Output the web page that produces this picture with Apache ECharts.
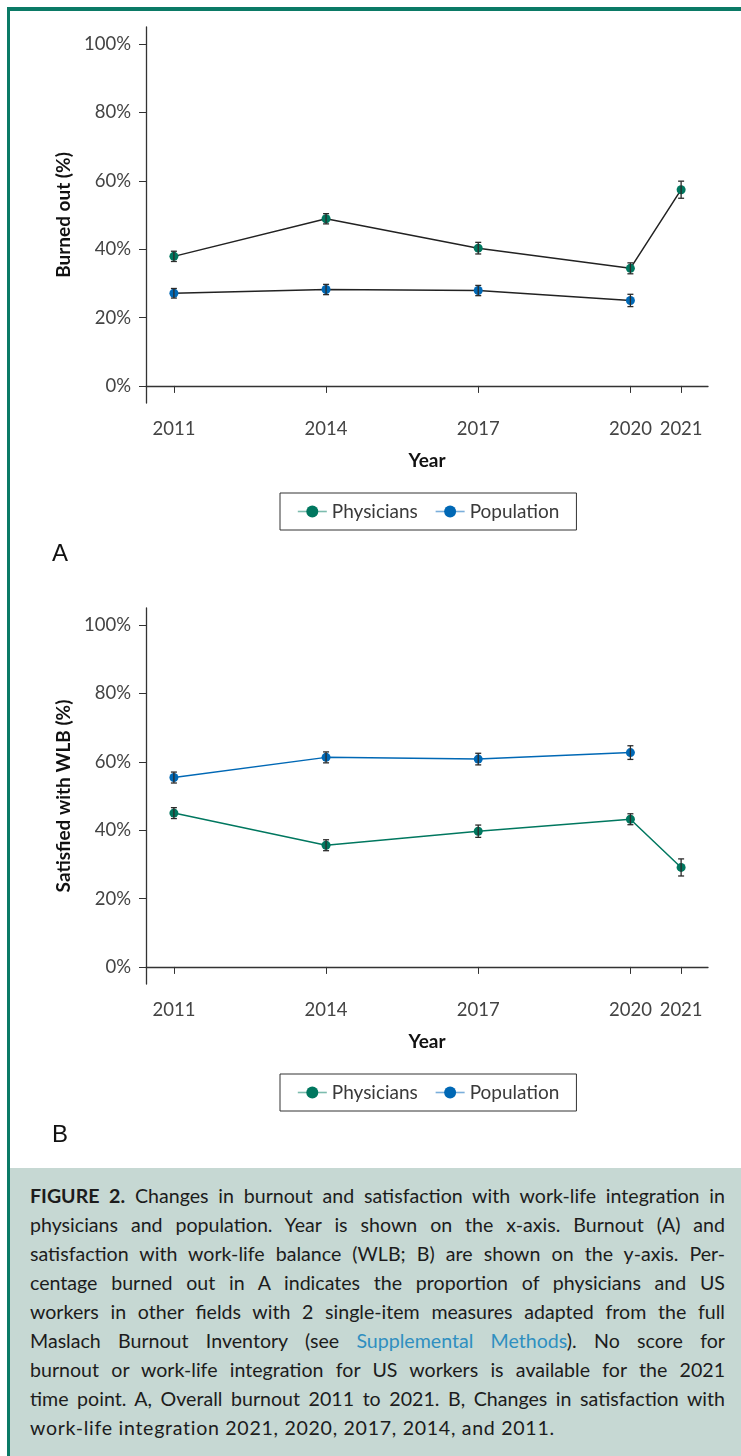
<!DOCTYPE html>
<html>
<head>
<meta charset="utf-8">
<script src="https://cdn.jsdelivr.net/npm/echarts@6/dist/echarts.min.js"></script>
<style>
  html, body { margin:0; padding:0; background:#fff; }
  body { width:741px; height:1456px; position:relative; overflow:hidden; }
  #frameTop { position:absolute; left:7px; top:7px; right:0; height:4px; background:#0b7a66; }
  #frameLeft { position:absolute; left:7px; top:7px; width:3px; bottom:0; background:#0b7a66; }
  #ca, #cb { position:absolute; left:0; width:741px; height:581px; }
  #ca { top:0; }
  #cb { top:581px; }
  #caption { position:absolute; left:10px; right:0; top:1168px; bottom:0; background:#c6d8d3; }
  #captionText { position:absolute; left:30px; top:1181px; width:695px; font-family:Lato, "Open Sans", sans-serif; font-size:19.6px; line-height:29px; color:#1c1c1c; }
  #captionText .ln { white-space:nowrap; text-align:justify; text-align-last:justify; }
  #captionText .ln.last { text-align-last:left; letter-spacing:0.7px; }
  #captionText b { font-weight:700; }
  #captionText .lnk { color:#2f8fc0; }
</style>
</head>
<body>
<div id="ca"></div>
<div id="cb"></div>
<div id="caption"></div>
<div id="frameTop"></div>
<div id="frameLeft"></div>
<div id="captionText">
  <div class="ln"><b>FIGURE 2.</b> Changes in burnout and satisfaction with work-life integration in</div>
  <div class="ln">physicians and population. Year is shown on the x-axis. Burnout (A) and</div>
  <div class="ln">satisfaction with work-life balance (WLB; B) are shown on the y-axis. Per-</div>
  <div class="ln">centage burned out in A indicates the proportion of physicians and US</div>
  <div class="ln">workers in other fields with 2 single-item measures adapted from the full</div>
  <div class="ln">Maslach Burnout Inventory (see <span class="lnk">Supplemental Methods</span>). No score for</div>
  <div class="ln">burnout or work-life integration for US workers is available for the 2021</div>
  <div class="ln">time point. A, Overall burnout 2011 to 2021. B, Changes in satisfaction with</div>
  <div class="ln last">work-life integration 2021, 2020, 2017, 2014, and 2011.</div>
</div>
<script>
// ---- data ----
const years = [2011, 2014, 2017, 2020, 2021];
const popYears = [2011, 2014, 2017, 2020];
const xTicks = [2011, 2014, 2017, 2020, 2021];
const yTicks = [0, 20, 40, 60, 80, 100];

const burnPhys    = [37.9, 48.9, 40.3, 34.4, 57.4];
const burnPhysErr = [1.5, 1.5, 1.7, 1.6, 2.5];
const burnPop     = [27.1, 28.2, 27.9, 25.0];
const burnPopErr  = [1.4, 1.5, 1.5, 1.8];

const wlbPhys     = [45.0, 35.6, 39.7, 43.2, 29.1];
const wlbPhysErr  = [1.6, 1.6, 1.8, 1.6, 2.5];
const wlbPop      = [55.4, 61.3, 60.8, 62.7];
const wlbPopErr   = [1.6, 1.6, 1.7, 2.0];

// ---- style ----
const GREEN = '#00775f';
const BLUE = '#0068b5';
const GREEN_L = '#7cbcae';
const BLUE_L = '#7aaedb';
const FONT = 'Lato, "Open Sans", sans-serif';

function errSeries(xs, vals, errs) {
  return {
    type: 'custom',
    z: 5,
    silent: true,
    data: xs.map((x, i) => [x, vals[i] - errs[i], vals[i] + errs[i]]),
    renderItem: function (params, api) {
      const lo = api.coord([api.value(0), api.value(1)]);
      const hi = api.coord([api.value(0), api.value(2)]);
      const w = 3;
      const st = { stroke: '#2b2b2b', lineWidth: 1.3 };
      return {
        type: 'group',
        children: [
          { type: 'line', shape: { x1: lo[0], y1: lo[1], x2: hi[0], y2: hi[1] }, style: st },
          { type: 'line', shape: { x1: lo[0] - w, y1: lo[1], x2: lo[0] + w, y2: lo[1] }, style: st },
          { type: 'line', shape: { x1: hi[0] - w, y1: hi[1], x2: hi[0] + w, y2: hi[1] }, style: st }
        ]
      };
    }
  };
}

function makeOption(yName, label, phys, physErr, pop, popErr, lineColored) {
  return {
    animation: false,
    grid: { left: 146, top: 27, width: 562, height: 376 },
    xAxis: {
      type: 'value', min: 2010.45, max: 2021.53,
      name: 'Year', nameLocation: 'middle', nameGap: 48,
      nameTextStyle: { fontFamily: FONT, fontSize: 19, fontWeight: 'bold', color: '#111' },
      axisLine: { show: true, lineStyle: { color: '#333', width: 1.3 } },
      axisTick: { show: true, length: 7, customValues: xTicks, lineStyle: { color: '#333', width: 1 } },
      axisLabel: { customValues: xTicks, margin: 17, fontFamily: FONT, fontSize: 18.5, color: '#444',
                   formatter: v => String(v) },
      splitLine: { show: false }
    },
    yAxis: {
      type: 'value', min: -5, max: 105,
      name: yName, nameLocation: 'middle', nameGap: 72, nameRotate: 90,
      nameTextStyle: { fontFamily: FONT, fontSize: 19, fontWeight: 'bold', color: '#111' },
      axisLine: { show: true, lineStyle: { color: '#333', width: 1.3 } },
      axisTick: { show: true, length: 7, customValues: yTicks, lineStyle: { color: '#333', width: 1 } },
      axisLabel: { customValues: yTicks, margin: 15, fontFamily: FONT, fontSize: 18.5, color: '#444',
                   formatter: v => v + '%' },
      splitLine: { show: false }
    },
    legend: {
      left: 280, top: 493,
      padding: [9, 17],
      itemGap: 17, itemWidth: 29, itemHeight: 15,
      borderColor: '#333', borderWidth: 1, borderRadius: 0,
      textStyle: { fontFamily: FONT, fontSize: 19, color: '#3a3a3a' },
      data: [
        { name: 'Physicians', lineStyle: { color: GREEN_L, width: 1.6 } },
        { name: 'Population', lineStyle: { color: BLUE_L, width: 1.6 } }
      ]
    },
    graphic: [{
      type: 'text', left: 52, top: 542,
      style: { text: label, fontFamily: '"Liberation Sans", Arial, sans-serif', fontSize: 24, fill: '#111' }
    }],
    series: [
      {
        name: 'Physicians', type: 'line', z: 3,
        data: years.map((x, i) => [x, phys[i]]),
        symbol: 'circle', symbolSize: 9,
        itemStyle: { color: GREEN },
        lineStyle: { color: lineColored ? GREEN : '#222', width: 1.5 }
      },
      {
        name: 'Population', type: 'line', z: 3,
        data: popYears.map((x, i) => [x, pop[i]]),
        symbol: 'circle', symbolSize: 9,
        itemStyle: { color: BLUE },
        lineStyle: { color: lineColored ? BLUE : '#222', width: 1.5 }
      },
      errSeries(years, phys, physErr),
      errSeries(popYears, pop, popErr)
    ]
  };
}

const ca = echarts.init(document.getElementById('ca'), null, { renderer: 'canvas' });
ca.setOption(makeOption('Burned out (%)', 'A', burnPhys, burnPhysErr, burnPop, burnPopErr, false));
const cb = echarts.init(document.getElementById('cb'), null, { renderer: 'canvas' });
cb.setOption(makeOption('Satisfied with WLB (%)', 'B', wlbPhys, wlbPhysErr, wlbPop, wlbPopErr, true));
</script>
</body>
</html>
